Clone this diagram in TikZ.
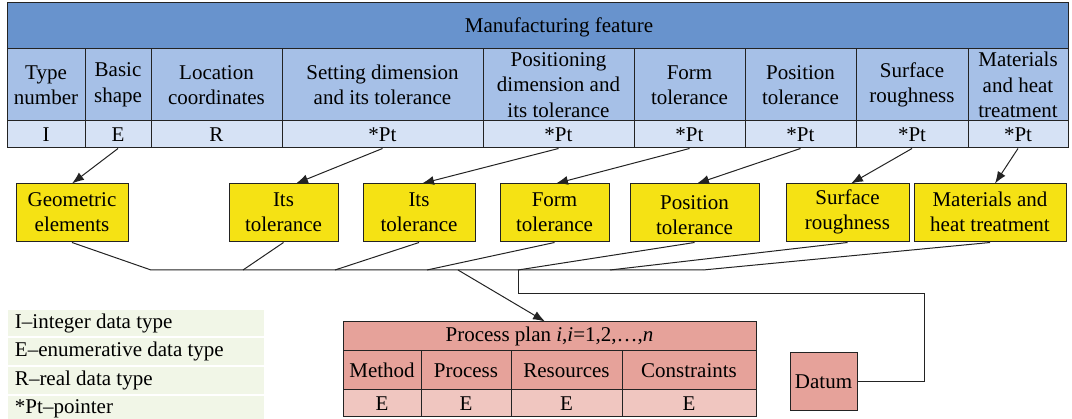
\documentclass[tikz,border=0pt]{standalone}
\usepackage{fontspec}
\setmainfont{Liberation Serif}
\usetikzlibrary{arrows.meta,fit,calc}
\definecolor{tblue}{RGB}{104,147,205}
\definecolor{hblue}{RGB}{166,192,231}
\definecolor{vblue}{RGB}{214,226,245}
\definecolor{yel}{RGB}{245,226,20}
\definecolor{pinkA}{RGB}{230,162,154}
\definecolor{pinkB}{RGB}{240,198,192}
\definecolor{legc}{RGB}{241,246,231}
\definecolor{linec}{RGB}{35,35,35}
\newcommand\cellbox[8]{\node[cellst, fill=#6, fit={(#2,#3) (#4,#5)}] (#1) {};
  \node[celltext] (#1t) at ([yshift=#7]#1.center) {#8};}
\newcommand\legrow[5]{\node[legbox, fit={(8,#2) (264,#3)}] (#1) {};
  \node[legtext] (#4) at ([xshift=7pt]#1.west) {#5};}
\begin{document}
\begin{tikzpicture}[x=1pt,y=-1pt,
  cellst/.style={draw=linec, line width=1pt, inner sep=0pt},
  celltext/.style={inner sep=0pt, align=center, font=\fontsize{21}{25.5}\selectfont},
  conn/.style={draw=linec, line width=1pt},
  arr/.style={conn, -{Latex[length=12pt,width=9pt]}},
  legbox/.style={fill=legc, inner sep=0pt},
  legtext/.style={anchor=west, inner sep=0pt, font=\fontsize{21}{25.5}\selectfont}]
\useasboundingbox (0,0) rectangle (1072,419);

% ---- top table ----
\node[cellst, fill=tblue, fit={(7,3) (1068,49)}] (title) {};
\node[celltext] (titletext) at (559,27) {Manufacturing feature};
\cellbox{h1}{7}{49}{85}{121}{hblue}{0pt}{Type\\number}
\cellbox{h2}{85}{49}{151}{121}{hblue}{0pt}{Basic\\shape}
\cellbox{h3}{151}{49}{282}{121}{hblue}{0pt}{Location\\coordinates}
\cellbox{h4}{282}{49}{483}{121}{hblue}{0pt}{Setting dimension\\and its tolerance}
\cellbox{h5}{483}{49}{634}{121}{hblue}{0pt}{Positioning\\dimension and\\its tolerance}
\cellbox{h6}{634}{49}{745}{121}{hblue}{0pt}{Form\\tolerance}
\cellbox{h7}{745}{49}{856}{121}{hblue}{0pt}{Position\\tolerance}
\cellbox{h8}{856}{49}{968}{121}{hblue}{0pt}{Surface\\roughness}
\cellbox{h9}{968}{49}{1068}{121}{hblue}{0pt}{Materials\\and heat\\treatment}
\cellbox{v1}{7}{121}{85}{148}{vblue}{0pt}{I}
\cellbox{v2}{85}{121}{151}{148}{vblue}{0pt}{E}
\cellbox{v3}{151}{121}{282}{148}{vblue}{0pt}{R}
\cellbox{v4}{282}{121}{483}{148}{vblue}{0pt}{*Pt}
\cellbox{v5}{483}{121}{634}{148}{vblue}{0pt}{*Pt}
\cellbox{v6}{634}{121}{745}{148}{vblue}{0pt}{*Pt}
\cellbox{v7}{745}{121}{856}{148}{vblue}{0pt}{*Pt}
\cellbox{v8}{856}{121}{968}{148}{vblue}{0pt}{*Pt}
\cellbox{v9}{968}{121}{1068}{148}{vblue}{0pt}{*Pt}

% ---- yellow boxes ----
\cellbox{g}{16}{184}{128}{242}{yel}{1pt}{Geometric\\elements}
\cellbox{i1}{229}{184}{338}{242}{yel}{1pt}{Its\\tolerance}
\cellbox{i2}{363}{184}{475}{242}{yel}{1pt}{Its\\tolerance}
\cellbox{fm}{500}{184}{609}{242}{yel}{1pt}{Form\\tolerance}
\cellbox{ps}{630}{184}{759}{242}{yel}{-2pt}{Position\\tolerance}
\cellbox{sr}{786}{184}{909}{242}{yel}{1pt}{Surface\\roughness}
\cellbox{mt}{914}{184}{1066}{242}{yel}{1pt}{Materials and\\heat treatment}

% ---- arrows from table ----
\draw[arr] (v2.south) -- (g.north);
\draw[arr] (v4.south) -- ([xshift=12.5pt]i1.north);
\draw[arr] (v5.south) -- ([xshift=3pt]i2.north);
\draw[arr] (v6.south) -- ([xshift=1.5pt]fm.north);
\draw[arr] (v7.south) -- ([xshift=2.5pt]ps.north);
\draw[arr] (v8.south) -- ([xshift=3.5pt]sr.north);
\draw[arr] (v9.south) -- ([xshift=5pt]mt.north);

% ---- bus ----
\coordinate (b1) at (151,270);
\coordinate (b2) at (243,270);
\coordinate (b3) at (335,270);
\coordinate (b4) at (427,270);
\coordinate (bA) at (458,270);
\coordinate (b5) at (518,270);
\coordinate (b6) at (610,270);
\coordinate (b7) at (703,270);
\coordinate (d2) at (924,294);
\draw[conn] (g.south) -- (b1) -- (b7);
\draw[conn] (i1.south) -- (b2);
\draw[conn] (i2.south) -- (b3);
\draw[conn] (fm.south) -- (b4);
\draw[conn] (ps.south) -- (b5);
\draw[conn] (sr.south) -- (b6);
\draw[conn] (mt.south) -- (b7);

% ---- process plan ----
\cellbox{pt}{343}{322}{756}{351}{pinkA}{0pt}{Process plan \textit{i},\textit{i}=1,2,…,\textit{n}}
\cellbox{ph1}{343}{351}{421}{390}{pinkA}{0pt}{Method}
\cellbox{ph2}{421}{351}{511}{390}{pinkA}{0pt}{Process}
\cellbox{ph3}{511}{351}{622}{390}{pinkA}{0pt}{Resources}
\cellbox{ph4}{622}{351}{756}{390}{pinkA}{0pt}{Constraints}
\cellbox{pv1}{343}{390}{421}{417}{pinkB}{0pt}{E}
\cellbox{pv2}{421}{390}{511}{417}{pinkB}{0pt}{E}
\cellbox{pv3}{511}{390}{622}{417}{pinkB}{0pt}{E}
\cellbox{pv4}{622}{390}{756}{417}{pinkB}{0pt}{E}
\cellbox{datum}{790}{353}{857}{411}{pinkA}{0pt}{Datum}

\draw[arr] (bA) -- ([xshift=-4.5pt]pt.north);
\draw[conn] (b5) |- (d2) |- (datum.east);

% ---- legend ----
\legrow{l1}{310}{336}{l1t}{I–integer data type}
\legrow{l2}{338}{365}{l2t}{E–enumerative data type}
\legrow{l3}{367}{394}{l3t}{R–real data type}
\legrow{l4}{396}{421}{l4t}{*Pt–pointer}
\end{tikzpicture}
\end{document}
